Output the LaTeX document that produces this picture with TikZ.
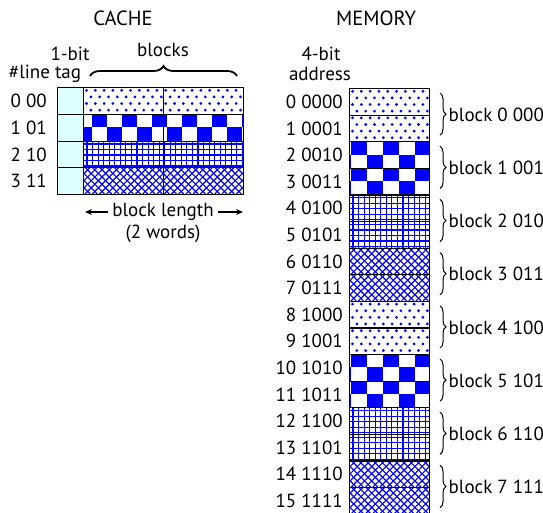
\documentclass[tikz,border=0pt]{standalone}
\usepackage{fontspec}
\setmainfont{PT Sans}
\usetikzlibrary{decorations.pathreplacing,arrows.meta}
\definecolor{tagcyan}{RGB}{221,255,255}
\definecolor{patblue}{RGB}{0,0,255}

% dots pattern: x1 y1 x2 y2
\newcommand\patDots[4]{%
  \begin{scope}
    \clip (#1,#2) rectangle (#3,#4);
    \foreach \j in {0,...,4}{%
      \foreach \i in {0,...,19}{%
        \pgfmathsetmacro\xx{#1+3.5+\i*8.8+mod(\j,2)*4.4}
        \pgfmathsetmacro\yy{#2+3.3+\j*6.6}
        \fill[patblue] (\xx,\yy) circle[radius=1.55pt];
      }}
  \end{scope}}
% checker pattern: x1 y1 x2 y2 x0 w
\newcommand\patChecker[6]{%
  \begin{scope}
    \clip (#1,#2) rectangle (#3,#4);
    \pgfmathsetmacro\hh{(#4-#2)/2}
    \foreach \j in {0,1}{%
      \foreach \i in {-2,...,6}{%
        \pgfmathsetmacro\xx{#5+\i*2*#6+mod(\j,2)*#6}
        \pgfmathsetmacro\yy{#2+\j*\hh}
        \fill[patblue] (\xx,\yy) rectangle ++(#6,\hh);
      }}
  \end{scope}}
% grid pattern: x1 y1 x2 y2
\newcommand\patGrid[4]{%
  \begin{scope}
    \clip (#1,#2) rectangle (#3,#4);
    \foreach \i in {0,...,30}{%
      \pgfmathsetmacro\xx{#1+4+\i*5.55}
      \draw[patblue,line width=1.1pt] (\xx,#2) -- (\xx,#4);
    }
    \foreach \j in {0,...,5}{%
      \pgfmathsetmacro\yy{#2+3.5+\j*5.5}
      \draw[patblue,line width=1.1pt] (#1,\yy) -- (#3,\yy);
    }
  \end{scope}}
% crosshatch pattern: x1 y1 x2 y2
\newcommand\patCross[4]{%
  \begin{scope}
    \clip (#1,#2) rectangle (#3,#4);
    \pgfmathsetmacro\hh{#4-#2}
    \foreach \k in {0,...,30}{%
      \pgfmathsetmacro\xx{#1-\hh+\k*7.2}
      \draw[patblue,line width=1.15pt] (\xx,#2) -- ++(\hh,\hh);
      \draw[patblue,line width=1.15pt] (\xx+\hh,#2) -- ++(-\hh,\hh);
    }
  \end{scope}}

\begin{document}
\begin{tikzpicture}[x=1pt,y=-1pt,
  font=\fontsize{19}{21}\selectfont,
  lbl/.style={inner sep=0pt},
  title/.style={inner sep=0pt,font=\fontsize{20.5}{22}\selectfont},
  tagcell/.style={draw=black,fill=tagcyan,line width=1.1pt,inner sep=0pt,anchor=north west,minimum width=26pt,minimum height=26.75pt},
  blockcell/.style={draw=black,line width=1.1pt,inner sep=0pt,anchor=north west,minimum width=80pt,minimum height=26.75pt},
  memcell/.style={draw=black,line width=1.1pt,inner sep=0pt,anchor=north west,minimum width=80pt,minimum height=26.6pt},
  bigbrace/.style={decorate,decoration={brace,amplitude=10pt},line width=1.8pt},
  smallbrace/.style={decorate,decoration={brace,amplitude=6pt},line width=1pt},
  arr/.style={-{Stealth[length=7pt,width=6pt]},line width=1.2pt}
]
\useasboundingbox (0,0) rectangle (543,512);

% ---------- titles ----------
\node[title] (cache) at (123,18) {CACHE};
\node[title] (memory) at (376,18) {MEMORY};

% ---------- cache ----------
\node[lbl] (onebit) at (70,54) {1-bit};
\node[lbl] (linetag) at (45,74) {\#line tag};
\node[lbl] (blocks) at (163,50) {blocks};
\coordinate (bbL) at (90,76);
\coordinate (bbR) at (237,76);
\draw[bigbrace] (bbL) -- (bbR);

% patterns in cache
\patDots{83}{87}{243}{113.75}
\patChecker{83}{113.75}{243}{140.5}{92}{15}
\patGrid{83}{140.5}{243}{167.25}
\patCross{83}{167.25}{243}{194}

\foreach \r/\t in {0/0 00,1/1 01,2/2 10,3/3 11}{%
  \node[tagcell] (tag\r) at (57,{87+26.75*\r}) {};
  \node[blockcell] (ba\r) at (83,{87+26.75*\r}) {};
  \node[blockcell] (bb\r) at (163,{87+26.75*\r}) {};
  \node[lbl,anchor=east] (cl\r) at (tag\r.west) [xshift=-10pt] {\t};
}

\node[lbl] (blen) at (163,212) {block length};
\coordinate (blenL) at (85,212);
\coordinate (blenR) at (243,212);
\draw[arr] ([xshift=-4pt]blen.west) -- (blenL);
\draw[arr] ([xshift=4pt]blen.east) -- (blenR);
\node[lbl] (words) at (163,234) {(2 words)};

% ---------- memory ----------
\node[lbl] (fourbit) at (321,54) {4-bit};
\node[lbl] (address) at (320,74) {address};

\foreach \b in {0,4}{%
  \pgfmathsetmacro\ya{88+53.2*\b}
  \pgfmathsetmacro\yb{\ya+26.6}
  \pgfmathsetmacro\yc{\ya+53.2}
  \patDots{349}{\ya}{429}{\yb}
  \patDots{349}{\yb}{429}{\yc}
}
\foreach \b in {1,5}{%
  \pgfmathsetmacro\ya{88+53.2*\b}
  \pgfmathsetmacro\yb{\ya+26.6}
  \pgfmathsetmacro\yc{\ya+53.2}
  \patChecker{349}{\ya}{429}{\yb}{350.5}{16}
  \patChecker{349}{\yb}{429}{\yc}{350.5}{16}
}
\foreach \b in {2,6}{%
  \pgfmathsetmacro\ya{88+53.2*\b}
  \pgfmathsetmacro\yb{\ya+26.6}
  \pgfmathsetmacro\yc{\ya+53.2}
  \patGrid{349}{\ya}{429}{\yb}
  \patGrid{349}{\yb}{429}{\yc}
}
\foreach \b in {3,7}{%
  \pgfmathsetmacro\ya{88+53.2*\b}
  \pgfmathsetmacro\yb{\ya+26.6}
  \pgfmathsetmacro\yc{\ya+53.2}
  \patCross{349}{\ya}{429}{\yb}
  \patCross{349}{\yb}{429}{\yc}
}

\foreach \r/\t in {0/0 0000,1/1 0001,2/2 0010,3/3 0011,4/4 0100,5/5 0101,6/6 0110,7/7 0111,
                   8/8 1000,9/9 1001,10/10 1010,11/11 1011,12/12 1100,13/13 1101,14/14 1110,15/15 1111}{%
  \node[memcell] (m\r) at (349,{88+26.6*\r}) {};
  \node[lbl,anchor=east] (ml\r) at (m\r.west) [xshift=-6pt] {\t};
}

\foreach \b/\t in {0/block 0 000,1/block 1 001,2/block 2 010,3/block 3 011,
                   4/block 4 100,5/block 5 101,6/block 6 110,7/block 7 111}{%
  \coordinate (bt\b) at (440,{88+53.2*\b+5});
  \coordinate (bm\b) at (440,{88+53.2*\b+26.6});
  \coordinate (bz\b) at (440,{88+53.2*\b+53.2-6});
  \draw[smallbrace] (bt\b) -- (bz\b);
  \node[lbl,anchor=west] (bl\b) at ([xshift=8.5pt]bm\b) {\t};
}
\end{tikzpicture}
\end{document}
